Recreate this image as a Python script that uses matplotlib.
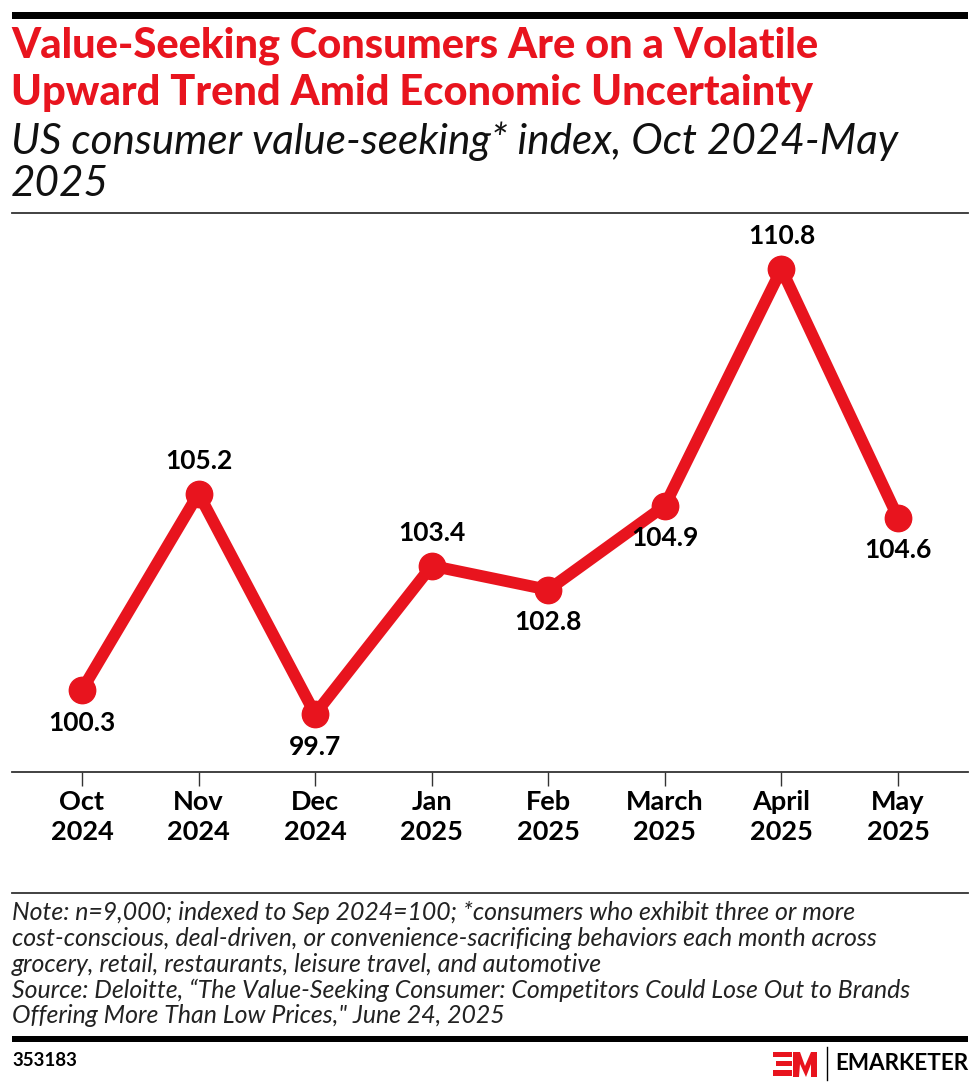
import matplotlib
matplotlib.use("Agg")
import matplotlib.pyplot as plt
from matplotlib.patches import Rectangle, Polygon
from matplotlib.lines import Line2D

# ---- data ----
months = ["Oct\n2024", "Nov\n2024", "Dec\n2024", "Jan\n2025", "Feb\n2025",
          "March\n2025", "April\n2025", "May\n2025"]
values = [100.3, 105.2, 99.7, 103.4, 102.8, 104.9, 110.8, 104.6]
label_pos = ["below", "above", "below", "above", "below", "below", "above", "below"]

title_lines = ["Value-Seeking Consumers Are on a Volatile",
               "Upward Trend Amid Economic Uncertainty"]
subtitle_lines = ["US consumer value-seeking* index, Oct 2024-May", "2025"]
note_lines = ["Note: n=9,000; indexed to Sep 2024=100; *consumers who exhibit three or more",
              "cost-conscious, deal-driven, or convenience-sacrificing behaviors each month across",
              "grocery, retail, restaurants, leisure travel, and automotive",
              "Source: Deloitte, \u201cThe Value-Seeking Consumer: Competitors Could Lose Out to Brands",
              "Offering More Than Low Prices,\" June 24, 2025"]
chart_id = "353183"

RED = "#E8141E"
W, H = 980, 1092

fig = plt.figure(figsize=(W / 100, H / 100), dpi=100)
fig.patch.set_facecolor("white")

def fx(x):
    return x / W

def fy(y):
    return 1 - y / H

# decorative rules
fig.add_artist(Rectangle((fx(12), fy(19)), fx(956), 7 / H, transform=fig.transFigure,
                         color="black", lw=0))
fig.add_artist(Line2D([fx(12), fx(968)], [fy(213), fy(213)], transform=fig.transFigure,
                      color="#333333", lw=1.3))
fig.add_artist(Line2D([fx(12), fx(968)], [fy(893), fy(893)], transform=fig.transFigure,
                      color="#333333", lw=1.3))
fig.add_artist(Rectangle((fx(12), fy(1042)), fx(956), 6 / H, transform=fig.transFigure,
                         color="black", lw=0))

# texts (each line placed at its centre row)
for i, line in enumerate(title_lines):
    fig.text(fx(11), fy(46 + 47 * i), line, color=RED, fontsize=30, fontweight="black",
             family="Lato", va="center", ha="left")
for i, line in enumerate(subtitle_lines):
    fig.text(fx(11), fy(141 + 43 * i), line, color="#111111", fontsize=30.4, style="italic",
             family="Lato", va="center", ha="left")
for i, line in enumerate(note_lines):
    fig.text(fx(12), fy(913 + 25.7 * i), line, color="#222222", fontsize=17.9, style="italic",
             family="Lato", va="center", ha="left")
fig.text(fx(12), fy(1061), chart_id, color="black", fontsize=13.5, fontweight="bold",
         family="Lato", va="center", ha="left")

# logo
fig.add_artist(Rectangle((fx(773), fy(1057)), fx(19), 5 / H, transform=fig.transFigure, color=RED, lw=0))
fig.add_artist(Rectangle((fx(776), fy(1066)), fx(16), 5 / H, transform=fig.transFigure, color=RED, lw=0))
fig.add_artist(Rectangle((fx(773), fy(1076)), fx(19), 6 / H, transform=fig.transFigure, color=RED, lw=0))
mpts = [(793, 1077), (793, 1052), (800, 1052), (805, 1066), (811, 1052), (817, 1052),
        (817, 1077), (811, 1077), (811, 1064), (806, 1077), (800, 1064), (799, 1077)]
fig.add_artist(Polygon([(fx(a), fy(b)) for a, b in mpts], closed=True,
                       transform=fig.transFigure, color=RED, lw=0))
fig.add_artist(Line2D([fx(827), fx(827)], [fy(1047), fy(1080)], transform=fig.transFigure,
                      color="black", lw=1))
fig.text(fx(968), fy(1063), "EMARKETER", color="black", fontsize=16.2, fontweight="bold",
         family="Lato", va="center", ha="right")

# axes
ax = fig.add_axes([fx(12), fy(772), fx(956), (772 - 213) / H])
x = list(range(len(values)))
ax.plot(x, values, color=RED, lw=8.5, marker="o", markersize=19, solid_joinstyle="miter",
        solid_capstyle="round", zorder=3, clip_on=False)
ax.set_xlim(-0.6, 7.6)
ax.set_ylim(98.255, 112.2)
for s in ["top", "right", "left"]:
    ax.spines[s].set_visible(False)
ax.spines["bottom"].set_color("#333333")
ax.spines["bottom"].set_linewidth(1.3)
ax.set_yticks([])
ax.set_xticks(x)
ax.set_xticklabels(months, fontsize=19.5, fontweight="bold", family="Lato", linespacing=1.3)
ax.tick_params(axis="x", length=10, width=1, color="#333333", pad=3)

for xi, v, p in zip(x, values, label_pos):
    off = 23.5 if p == "above" else -23.5
    ax.annotate(f"{v}", (xi, v), xytext=(0, off), textcoords="offset points",
                ha="center", va="center", fontsize=19, fontweight="bold", family="Lato",
                color="black")

fig.savefig("out.png", dpi=100, facecolor="white")
